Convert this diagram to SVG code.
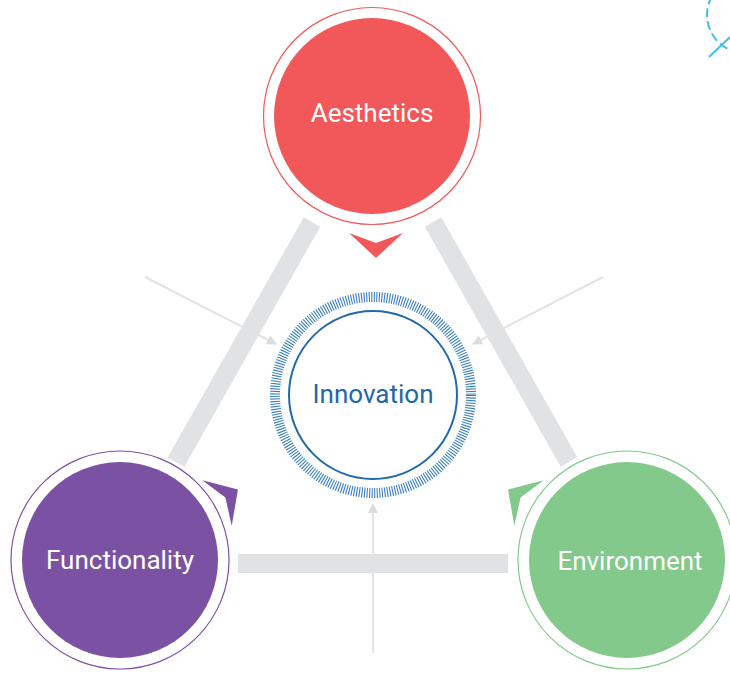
<svg xmlns="http://www.w3.org/2000/svg" width="730" height="673" viewBox="0 0 730 673">
<style>
.lbl{font-family:Roboto,"Liberation Sans",sans-serif;font-size:26px;text-anchor:middle}
.bar{stroke:#e1e2e4;stroke-width:19;fill:none}
.thin{stroke:#e3e3e3;stroke-width:2;fill:none;marker-end:url(#ah)}
</style>
<defs>
<marker id="ah" viewBox="0 0 10 10" refX="9" refY="5" markerWidth="5" markerHeight="5" orient="auto" markerUnits="strokeWidth">
<path d="M0,0 L10,5 L0,10 Z" fill="#dcdcdc"/>
</marker>
<path id="chev" d="M0,-27 L10,0 L0,27 L25,0 Z"/>
</defs>
<rect width="730" height="673" fill="#ffffff"/>
<g id="deco">
<circle cx="745" cy="15" r="38" fill="none" stroke="#45bfe6" stroke-width="2" stroke-dasharray="9 4"/>
<line x1="709" y1="57" x2="730" y2="37" stroke="#45bfe6" stroke-width="2"/>
</g>
<g id="connectors">
<line class="bar" x1="312" y1="222" x2="176" y2="462"/>
<line class="bar" x1="433" y1="222" x2="569" y2="462"/>
<line class="bar" x1="238" y1="563.5" x2="508" y2="563.5"/>
<line class="thin" x1="145" y1="277" x2="276" y2="344"/>
<line class="thin" x1="603" y1="277" x2="473" y2="344"/>
<line class="thin" x1="373" y1="653" x2="373" y2="504"/>
<use href="#chev" fill="#f2585a" transform="translate(376,233) rotate(90)"/>
<use href="#chev" fill="#7b52a3" transform="translate(217,503) rotate(-33)"/>
<use href="#chev" fill="#82c98b" transform="translate(529,503) rotate(213)"/>
</g>
<g id="aesthetics">
<circle cx="372" cy="116" r="108.5" fill="#fff" stroke="#f2585a" stroke-width="1.2"/>
<circle cx="372" cy="116" r="98" fill="#f2585a"/>
<text class="lbl" x="372" y="122" fill="#ffffff">Aesthetics</text>
</g>
<g id="functionality">
<circle cx="120" cy="560" r="109" fill="#fff" stroke="#7b52a3" stroke-width="1.2"/>
<circle cx="120" cy="560" r="98" fill="#7b52a3"/>
<text class="lbl" x="120" y="569" fill="#ffffff">Functionality</text>
</g>
<g id="environment">
<circle cx="627" cy="560" r="109" fill="#fff" stroke="#82c98b" stroke-width="1.2"/>
<circle cx="627" cy="560" r="98" fill="#82c98b"/>
<text class="lbl" x="630" y="570" fill="#ffffff">Environment</text>
</g>
<g id="innovation">
<circle cx="373" cy="395" r="98" fill="none" stroke="#3b7fc0" stroke-width="10" stroke-dasharray="1.1 1.466"/>
<circle cx="373" cy="395" r="84" fill="#fff" stroke="#1f6aad" stroke-width="2"/>
<text class="lbl" x="373" y="403" fill="#2466a8">Innovation</text>
</g>
</svg>
